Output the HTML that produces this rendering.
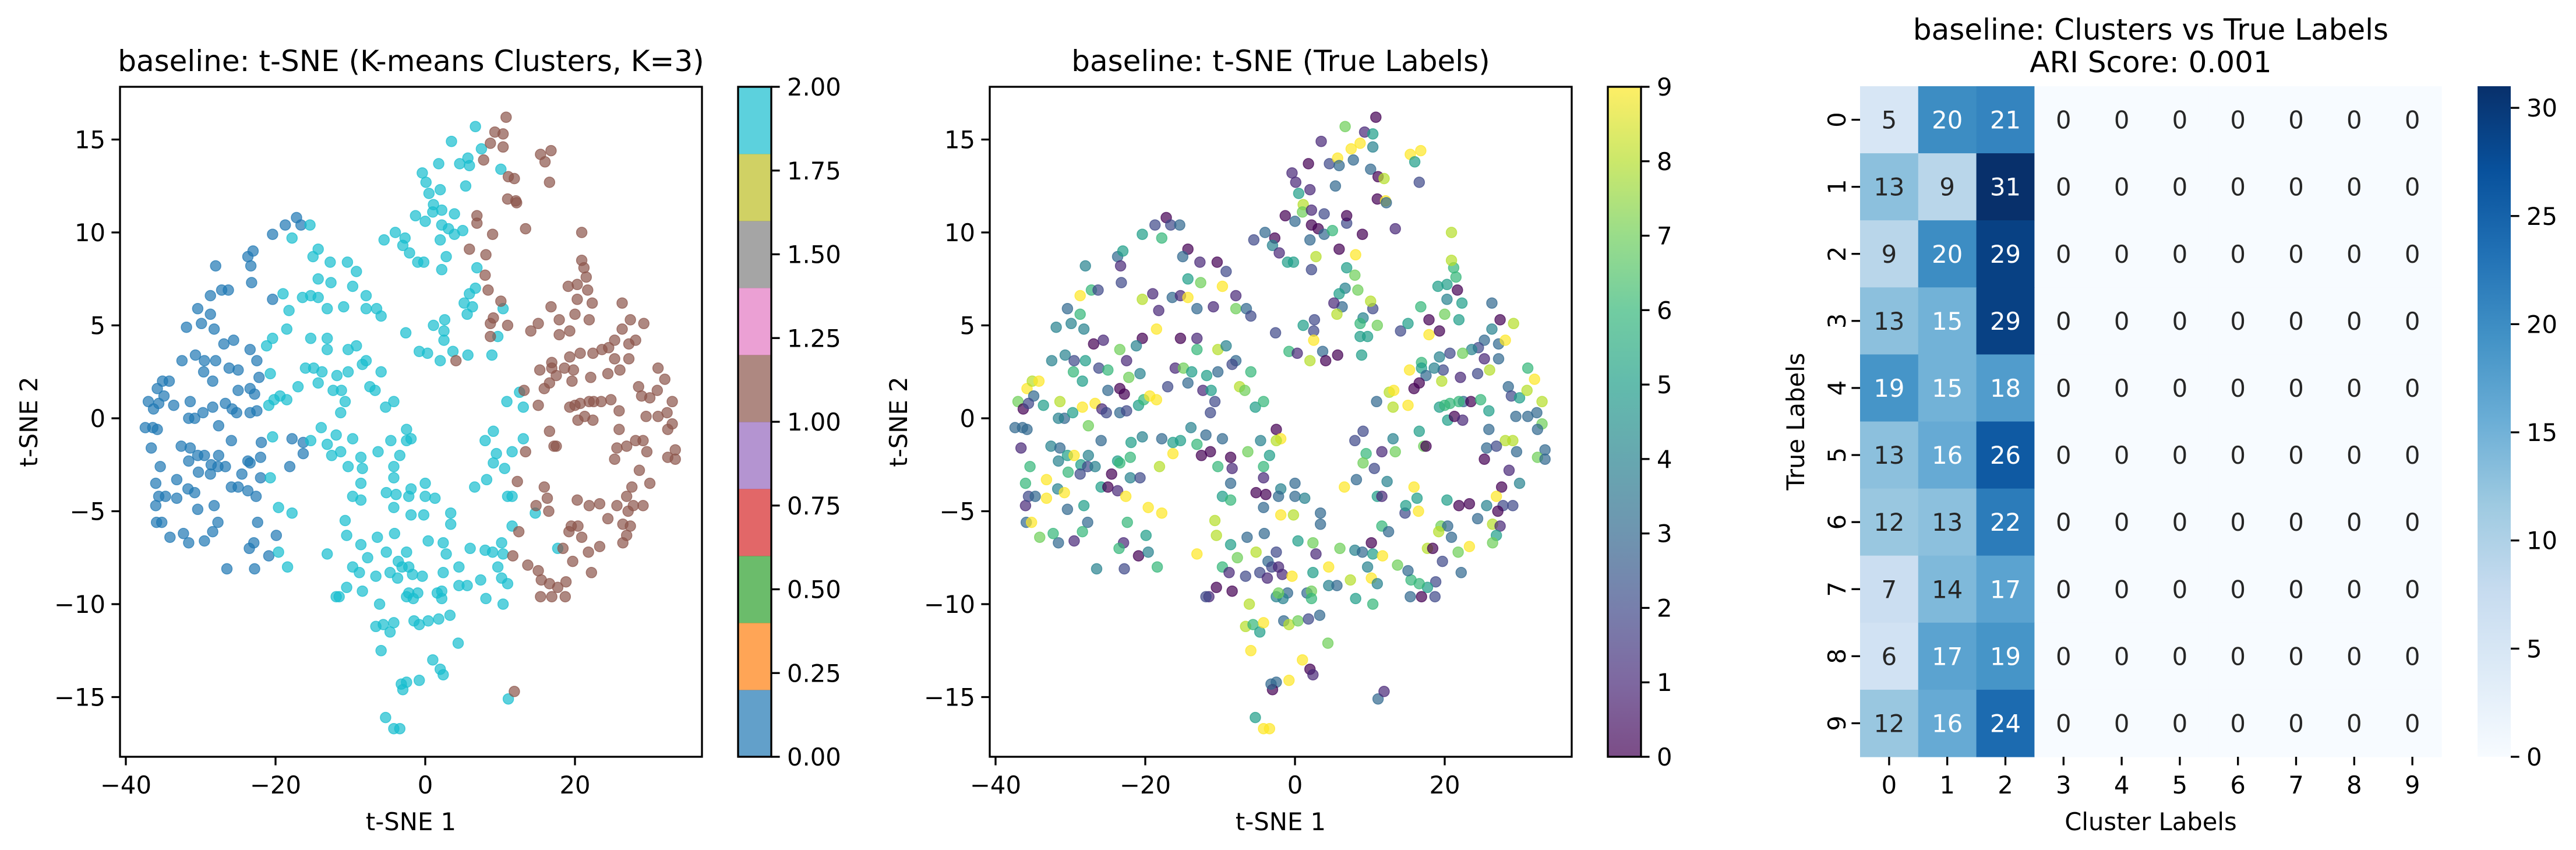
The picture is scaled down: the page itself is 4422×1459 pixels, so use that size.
<!DOCTYPE html>
<html><head><meta charset="utf-8">
<style>
html,body{margin:0;padding:0;background:#fff;}
svg{display:block;font-family:"DejaVu Sans","Liberation Sans",sans-serif;}
</style></head>
<body>
<svg id="fig" width="4422" height="1459" viewBox="0 0 4422 1459" xmlns="http://www.w3.org/2000/svg">
<defs>
<linearGradient id="viridisGrad" x1="0" y1="1" x2="0" y2="0">
<stop offset="0" stop-color="#440154"/><stop offset="0.111" stop-color="#482878"/><stop offset="0.222" stop-color="#3e4989"/><stop offset="0.333" stop-color="#31688e"/><stop offset="0.444" stop-color="#26828e"/><stop offset="0.556" stop-color="#1f9e89"/><stop offset="0.667" stop-color="#35b779"/><stop offset="0.778" stop-color="#6ece58"/><stop offset="0.889" stop-color="#b5de2b"/><stop offset="1" stop-color="#fde725"/>
</linearGradient>
<linearGradient id="bluesGrad" x1="0" y1="1" x2="0" y2="0">
<stop offset="0" stop-color="#f7fbff"/><stop offset="0.125" stop-color="#deebf7"/><stop offset="0.25" stop-color="#c6dbef"/><stop offset="0.375" stop-color="#9ecae1"/><stop offset="0.5" stop-color="#6baed6"/><stop offset="0.625" stop-color="#4292c6"/><stop offset="0.75" stop-color="#2171b5"/><stop offset="0.875" stop-color="#08519c"/><stop offset="1" stop-color="#08306b"/>
</linearGradient>
<clipPath id="clip1"><rect x="206" y="149" width="999" height="1150"/></clipPath>
<clipPath id="clip2"><rect x="1699" y="149" width="999" height="1150"/></clipPath>
</defs>
</svg>
<script>
// t-SNE points: [x, y, kmeansCluster, trueLabel]
const points = [
[-37.4,-0.5,0,3],[-37.0,0.9,0,7],[-36.4,-0.5,0,3],[-35.8,-0.6,0,3],[-36.3,0.5,0,0],[-35.8,1.6,0,9],[-35.1,2.0,0,8],[-34.2,2.0,0,9],[-34.9,1.2,0,3],[-35.6,0.8,0,2],[-36.6,-1.6,0,1],[-35.4,-2.6,0,6],[-36.0,-3.5,0,6],[-36.0,-4.7,0,1],[-35.6,-4.2,0,2],[-34.7,-4.2,0,3],[-35.9,-5.6,0,3],[-35.2,-5.6,0,9],[-34.1,-6.4,0,7],[-33.2,-4.3,0,9],[-33.2,-3.3,0,9],[-33.6,0.7,0,5],[-32.5,3.1,0,4],[-31.9,4.9,0,4],[-30.4,5.9,0,3],[-29.9,5.1,0,4],[-28.7,5.6,0,6],[-28.2,4.8,0,4],[-28.7,6.6,0,9],[-28.0,8.2,0,4],[-27.2,6.9,0,6],[-26.3,6.9,0,2],[-26.9,4.0,0,0],[-25.6,4.2,0,1],[-30.7,3.4,0,4],[-29.5,3.1,0,2],[-28.0,3.1,0,5],[-29.6,2.5,0,6],[-28.4,2.0,0,5],[-31.4,0.9,0,8],[-30.8,0.0,0,3],[-31.6,0.0,0,4],[-29.7,0.3,0,5],[-28.4,0.6,0,9],[-27.6,-0.4,0,7],[-26.7,0.8,0,9],[-25.8,0.5,0,1],[-25.2,0.3,0,2],[-25.0,1.5,0,3],[-26.2,2.7,0,2],[-25.0,2.6,0,6],
[-32.6,-1.5,0,4],[-31.4,-1.6,0,3],[-31.6,-2.3,0,4],[-30.4,-2.0,0,5],[-29.5,-2.0,0,9],[-30.3,-2.9,0,6],[-28.6,-2.5,0,5],[-27.6,-2.0,0,4],[-28.7,-3.0,0,2],[-27.7,-2.6,0,2],[-26.7,-2.6,0,4],[-25.9,-1.2,0,3],[-31.7,-3.8,0,4],[-30.8,-4.0,0,9],[-30.4,-4.9,0,3],[-28.2,-4.7,0,5],[-27.7,-5.6,0,3],[-28.4,-6.1,0,6],[-29.5,-6.6,0,1],[-31.6,-6.7,0,3],[-32.3,-6.2,0,6],[-25.9,-3.7,0,5],[-25.0,-3.7,0,0],[-24.5,-3.0,0,0],[-23.7,-2.3,0,5],[-23.4,-2.4,0,6],[-23.7,-3.9,0,1],[-22.6,-4.2,0,9],[-22.4,-5.6,0,6],[-22.9,-6.7,0,1],[-23.5,-7.0,0,6],[-22.8,-8.1,0,2],[-26.5,-8.1,0,4],[-22.0,-3.2,0,4],[-22.0,-2.1,0,6],[-21.9,-1.3,0,5],[-23.4,1.6,0,0],[-22.8,1.3,0,0],[-22.2,2.2,0,7],[-22.5,3.1,0,1],[-23.4,3.7,0,7],[-23.4,0.3,0,3],[-22.5,0.4,0,2],[-23.7,8.7,0,3],[-23.0,9.0,0,5],[-23.3,8.2,0,1],[-23.2,7.3,0,2],[-20.4,6.4,0,8],[-20.4,9.9,0,5],[-18.7,10.4,0,2],[-17.2,10.8,0,0],[-16.6,10.4,0,2],[-20.9,-7.4,0,0],[-19.9,-6.3,0,5],[-18.1,-2.6,0,8],[-17.8,-1.1,0,3],[-16.3,-1.3,0,5],[-16.3,-1.9,0,9],
[-17.8,9.7,2,6],[-15.4,10.4,2,3],[-14.3,9.1,2,0],[-15.0,8.7,2,3],[-12.7,8.4,2,1],[-10.4,8.4,2,0],[-9.2,7.9,2,2],[-9.7,7.1,2,9],[-14.3,7.5,2,5],[-12.6,7.3,2,7],[-19.0,6.7,2,1],[-16.4,6.5,2,3],[-15.3,6.6,2,1],[-14.3,6.5,2,9],[-18.2,5.8,2,1],[-13.1,5.9,2,3],[-10.9,6.0,2,1],[-7.9,6.6,2,1],[-7.9,5.9,2,7],[-6.5,5.9,2,3],[-5.9,5.5,2,2],[-18.5,4.8,2,9],[-15.3,4.3,2,0],[-13.1,4.3,2,1],[-13.1,3.7,2,6],[-10.3,3.7,2,8],[-9.2,3.9,2,4],[-20.4,4.3,2,0],[-21.2,3.9,2,4],[-20.7,2.4,2,4],[-16.0,2.7,2,1],[-14.9,2.7,2,7],[-13.8,2.5,2,5],[-11.8,2.3,2,5],[-10.3,2.5,2,3],[-7.9,3.1,2,3],[-8.4,2.9,2,2],[-5.9,2.5,2,6],[-14.3,1.9,2,3],[-17.0,1.7,2,2],[-12.3,1.5,2,1],[-11.2,1.5,2,5],[-7.4,1.7,2,8],[-6.7,1.5,2,7],[-10.7,0.9,2,2],[-11.3,0.3,2,2],[-20.9,0.7,2,5],[-20.2,1.0,2,6],[-19.4,1.2,2,9],[-18.5,1.0,2,9],[-13.9,-0.5,2,4],[-15.3,-1.2,2,5],[-20.4,-1.0,2,4],[-20.7,-3.2,2,2],[-19.6,-4.8,2,9],[-17.8,-5.1,2,9],[-19.6,-7.2,2,4],[-18.4,-8.0,2,6],[-13.1,-1.4,2,6],[-11.9,-0.9,2,3],[-12.5,-2.0,2,0],[-11.3,-1.8,2,0],[-9.7,-1.1,2,3],[-8.6,-2.1,2,0],[-8.4,-2.7,2,1],[-10.3,-2.6,2,6],[-8.6,-3.5,2,3],[-9.7,-4.2,2,5],[-8.6,-4.4,2,6],[-10.7,-5.5,2,8],[-10.5,-6.3,2,8],[-8.6,-6.8,2,5],[-13.1,-7.3,2,9],[-7.7,-7.5,2,7],[-9.7,-8.0,2,6],[-8.8,-8.3,2,1],[-10.5,-9.1,2,0],[-8.4,-9.3,2,0],[-11.5,-9.6,2,1],[-11.9,-9.6,2,2],[-6.6,-8.5,2,2],[-6.1,-10.0,2,8],[-6.6,-11.2,2,8],[-5.6,-11.1,2,6],[-4.7,-11.5,2,5],[-4.2,-11.0,2,9],[-5.9,-12.5,2,9],[-6.4,-6.4,2,3],[-6.3,-1.8,2,7],[-5.3,0.6,2,5],[-4.2,0.9,2,6],[-4.6,-1.2,2,4],[-3.4,-2.0,2,5],[-4.2,-2.6,2,6],[-4.2,-3.2,2,1],[-5.2,-4.0,2,0],[-3.9,-4.1,2,0],[-4.2,-4.8,2,3],[-4.1,-6.2,2,3],[-5.2,-7.2,2,8],[-4.7,-8.3,2,2],[-3.6,-7.7,2,3],[-3.7,-8.6,2,1],[-3.1,-8.0,2,2],[-2.5,-7.2,2,2],[-2.2,-8.0,2,1],[-2.5,-9.6,2,4],[-1.7,-8.4,2,1],[-2.5,-0.6,2,0],[-1.9,-1.1,2,9],[-2.5,-1.2,2,8],[-1.9,-3.8,2,4],[-2.2,-4.2,2,3],[-1.9,-5.2,2,9],[0,-3.5,2,3],[0,-4.2,2,3],[1.3,-4.3,2,4],[-0.2,-5.2,2,8],[0.4,-6.6,2,5],[-0.4,-8.5,2,9],[-1.0,-9.4,2,3],[-1.6,-9.7,2,4],[-1.5,-10.9,2,3],[-0.8,-11.1,2,8],[0.4,-10.9,2,7],[1.8,-10.8,2,2],[1.6,-9.4,2,3],[2.2,-9.3,2,7],[2.2,-9.7,2,6],[2.4,-6.7,2,7],[2.8,-7.3,2,1],[2.4,-8.3,2,5],[3.4,-5.1,2,3],[3.4,-5.7,2,3],[3.3,-10.6,2,3],[4.5,-8.0,2,9],[4.5,-9.0,2,4],[5.6,-9.0,2,3],[6.0,-7.0,2,7],[4.4,-12.1,2,7],[7.4,-8.7,2,8],[8.0,-7.1,2,4],[9.0,-7.2,2,3],[8.1,-9.7,2,5],[9.7,-8.0,2,4],[10.2,-6.7,2,0],[10.2,-8.6,2,9],[10.4,-10.0,2,6],[11.0,-8.9,2,4],[10.4,-7.3,2,5],[6.6,-3.7,2,9],[8.2,-3.3,2,3],[8.0,-1.2,2,2],[9.1,-0.7,2,2],[9.5,-1.9,2,6],[9.1,-2.4,2,7],[10.6,-2.7,2,2],[11.6,-1.8,2,1],[11.0,-4.2,2,5],[11.6,-4.2,2,1],[11.6,-5.8,2,6],[13.1,-1.1,2,4],[14.7,-5.1,2,2],[17.7,-7.0,2,8],[11.1,-15.1,2,3],[1.0,-13.0,2,9],[2.0,-13.5,2,0],[2.4,-13.8,2,1],[-0.8,-14.1,2,9],[-2.5,-14.2,2,3],[-3.0,-14.6,2,0],[-3.2,-14.3,2,3],[-5.3,-16.1,2,5],[-4.2,-16.7,2,9],[-3.4,-16.7,2,9],[-2.2,-9.4,2,7],
[6.7,15.7,2,7],[3.5,14.9,2,1],[7.5,14.5,2,9],[1.8,13.7,2,0],[4.6,13.7,2,2],[5.7,14.0,2,9],[5.9,13.6,2,3],[5.4,12.5,2,3],[10.1,13.4,2,3],[-0.4,13.2,2,1],[0.1,12.7,2,1],[0.5,12.1,2,5],[1.1,11.5,2,8],[1.0,11.1,2,7],[2.0,12.3,2,1],[2.2,11.2,2,1],[3.9,11.0,2,2],[2.2,10.4,2,0],[3.1,10.2,2,0],[3.9,9.9,2,3],[5.0,10.1,2,6],[-1.3,10.9,2,0],[0,10.6,2,3],[2.0,9.6,2,3],[-4.0,10.0,2,3],[-5.5,9.6,2,2],[-2.7,9.7,2,0],[-3.0,9.3,2,4],[-2.1,8.9,2,1],[-1.0,8.4,2,5],[-0.2,8.4,2,5],[2.8,8.7,2,8],[2.2,8.0,2,2],[6.9,8.1,2,5],[6.7,7.0,2,4],[5.9,6.7,2,5],[6.3,6.0,2,3],[5.2,6.2,2,1],[5.6,5.6,2,8],[2.6,5.3,2,2],[1.1,5.0,2,5],[2.5,4.7,2,2],[2.5,4.2,2,9],[-2.6,4.6,2,2],[-0.8,3.6,2,6],[0.3,3.5,2,1],[3.7,3.6,2,3],[5.7,3.4,2,0],[2.0,3.1,2,8],[8.9,3.4,2,5],[10.4,5.9,2,2],[9.7,4.4,2,5],[12.6,1.4,2,8],[13.1,0.6,2,8],[10.9,0.9,2,3],
[10.8,16.2,1,0],[9.3,15.4,1,1],[10.4,15.3,1,5],[8.7,14.8,1,9],[10.4,14.6,1,4],[7.8,13.9,1,3],[11.1,13.0,1,0],[11.9,12.9,1,8],[11.0,11.8,1,0],[12.1,11.7,1,9],[12.2,11.6,1,3],[15.4,14.2,1,9],[16.8,14.4,1,9],[16.0,13.8,1,5],[16.6,12.7,1,2],[13.4,10.2,1,1],[6.9,10.5,1,2],[6.9,10.9,1,0],[9.0,9.9,1,0],[5.9,9.1,1,0],[8.1,8.8,1,9],[8.0,7.7,1,7],[8.4,6.9,1,7],[10.1,6.3,1,8],[9.1,5.4,1,4],[8.7,5.1,1,6],[11.0,5.0,1,7],[8.7,4.4,1,5],[14.1,4.7,1,2],[15.1,5.1,1,5],[16.8,6.0,1,6],[17.9,5.3,1,0],[17.9,4.5,1,9],[19.3,4.7,1,0],[20.0,5.6,1,7],[20.3,6.4,1,4],[19.1,7.1,1,5],[20.3,7.2,1,5],[21.7,6.9,1,0],[21.5,7.6,1,6],[21.2,8.1,1,6],[20.9,8.5,1,8],[20.9,10.0,1,8],[22.3,6.2,1,5],[21.9,5.3,1,5],[26.3,6.2,1,3],[26.3,4.8,1,4],[27.4,5.3,1,0],[27.2,4.0,1,3],[28.1,4.2,1,9],[29.2,5.1,1,8],[25.3,4.2,1,3],[24.5,3.8,1,2],[23.6,3.7,1,4],[22.4,3.5,1,7],[20.7,3.5,1,2],[19.3,3.3,1,4],[19.8,2.6,1,2],[18.6,2.7,1,4],[16.9,3.0,1,6],[16.9,2.7,1,5],[15.3,2.6,1,9],[17.5,2.3,1,3],[16.6,1.9,1,0],[15.9,1.6,1,0],[19.6,2.0,1,8],[22.1,2.2,1,1],[24.4,2.4,1,2],[25.3,3.2,1,1],[26.0,2.6,1,8],[27.2,3.2,1,3],[28.5,1.7,1,3],[28.9,1.2,1,2],[30.0,1.1,1,5],[31.1,2.7,1,6],[32.0,2.1,1,9],[31.0,1.5,1,8],[33.0,0.9,1,8],[32.3,0.3,1,3],[31.1,0.1,1,3],[29.5,0.1,1,3],[33.0,-0.3,1,7],[32.4,-0.6,1,3],[33.4,-1.7,1,3],[32.4,-2.1,1,7],[33.4,-2.2,1,3],[29.6,-1.8,1,3],[29.1,-1.2,1,8],[28.1,-1.2,1,8],[28.6,-2.8,1,1],[30.0,-3.5,1,4],[27.6,-3.7,1,0],[26.9,-4.2,1,9],[27.8,-4.7,1,2],[29.1,-4.7,1,2],[27.1,-5.0,1,0],[25.6,-4.7,1,4],[24.4,-5.4,1,3],[26.4,-5.7,1,8],[27.4,-5.8,1,1],[26.9,-6.3,1,5],[26.4,-6.7,1,7],[23.3,-6.9,1,9],[21.8,-7.2,1,7],[22.2,-8.3,1,3],[23.3,-4.6,1,0],[21.9,-4.7,1,0],[20.3,-4.4,1,5],[19.5,-5.8,1,7],[20.4,-5.8,1,3],[19.2,-6.1,1,8],[20.9,-6.4,1,3],[19.7,-7.7,1,2],[18.4,-7.0,1,0],[18.8,-8.8,1,2],[17.7,-9.1,1,5],[18.7,-9.6,1,2],[16.9,-9.6,1,0],[15.4,-9.6,1,3],[16.6,-8.9,1,6],[15.5,-8.7,1,6],[15.1,-8.2,1,3],[13.7,-7.9,1,7],[12.5,-6.1,1,3],[11.7,-7.4,1,9],[16.5,-5.0,1,9],[16.3,-4.3,1,5],[15.9,-3.7,1,9],[14.8,-4.7,1,5],[13.4,-1.8,1,7],[16.6,-0.7,1,5],[17.2,-1.5,1,7],[17.5,-1.5,1,0],[20.4,-0.1,1,5],[21.3,0.1,1,0],[22.4,-0.1,1,1],[22.5,0.9,1,3],[23.5,0.9,1,0],[21.9,0.9,1,6],[19.3,0.6,1,5],[20.0,0.7,1,6],[24.8,1.0,1,6],[25.9,0.4,1,5],[25.9,-0.6,1,3],[25.6,-1.6,1,3],[25.3,-2.2,1,0],[26.9,-1.5,1,2],[20.7,0.8,1,6],[15.1,0.7,1,9],[13.2,1.5,1,9],[11.9,-14.7,1,1],[4.1,3.1,1,0],[12.3,-3.4,1,4]
];
const xTicks = [-40,-20,0,20];
const yTicks = [-15,-10,-5,0,5,10,15];
const clusterTicks = ["0.00","0.25","0.50","0.75","1.00","1.25","1.50","1.75","2.00"];
const labelTicks = [0,1,2,3,4,5,6,7,8,9];
const tab10 = ["#1f77b4","#ff7f0e","#2ca02c","#d62728","#9467bd","#8c564b","#e377c2","#7f7f7f","#bcbd22","#17becf"];
const viridis = ["#440154","#482878","#3e4989","#31688e","#26828e","#1f9e89","#35b779","#6ece58","#b5de2b","#fde725"];
const clusterColor = ["#1f77b4","#8c564b","#17becf"];
// confusion matrix rows = true labels 0..9, cols = cluster labels 0..9
const heatRowLabels = [0,1,2,3,4,5,6,7,8,9];
const heatColLabels = [0,1,2,3,4,5,6,7,8,9];
const heatCol0 = [5,13,9,13,19,13,12,7,6,12];
const heatCol1 = [20,9,20,15,15,16,13,14,17,16];
const heatCol2 = [21,31,29,29,18,26,22,17,19,24];
const heatMax = 31;
const heatCbTicks = [0,5,10,15,20,25,30];

const NS = "http://www.w3.org/2000/svg";
const svg = document.getElementById('fig');
function mk(tag, attrs, parent, text){
  const e = document.createElementNS(NS, tag);
  for (const k in attrs) e.setAttribute(k, attrs[k]);
  if (text !== undefined) e.textContent = text;
  (parent || svg).appendChild(e);
  return e;
}
const AX_TOP = 149, AX_BOT = 1299;
function yScale(v){ return 718 - 31.9 * v; }
function fmtNum(v){ return v < 0 ? "\u2212" + Math.abs(v) : String(v); }

function scatterPanel(left, zeroX, clipId, colorFn, title, panelName){
  const xs = v => zeroX + 12.85 * v;
  const g = mk('g', {});
  
  
  const pg = mk('g', {'clip-path': 'url(#' + clipId + ')'}, g);
  
  
  points.forEach(p => {
    const c = mk('circle', {cx: xs(p[0]).toFixed(1), cy: yScale(p[1]).toFixed(1), r: 9, fill: colorFn(p), 'fill-opacity': 0.7, stroke: colorFn(p), 'stroke-opacity': 0.7, 'stroke-width': 1.5}, pg);
    
    
  });
  const frame = mk('rect', {x: left, y: AX_TOP, width: 999, height: AX_BOT - AX_TOP, fill: 'none', stroke: '#000', 'stroke-width': 3.3}, g);
  
  
  xTicks.forEach(t => {
    const x = xs(t);
    mk('line', {x1: x, x2: x, y1: AX_BOT, y2: AX_BOT + 14.6, stroke: '#000', 'stroke-width': 3.3}, g);
    const tl = mk('text', {x: x, y: 1362, 'font-size': 41.7, 'text-anchor': 'middle'}, g, fmtNum(t));
    
    
  });
  yTicks.forEach(t => {
    const y = yScale(t);
    mk('line', {x1: left - 14.6, x2: left, y1: y, y2: y, stroke: '#000', 'stroke-width': 3.3}, g);
    const tl = mk('text', {x: left - 25, y: y + 15, 'font-size': 41.7, 'text-anchor': 'end'}, g, fmtNum(t));
    
    
  });
  const tt = mk('text', {x: left + 499.5, y: 122, 'font-size': 50, 'text-anchor': 'middle'}, g, title);
  
  
  const xl = mk('text', {x: left + 499.5, y: 1425, 'font-size': 41.7, 'text-anchor': 'middle'}, g, 't-SNE 1');
  
  
  const yl = mk('text', {x: 0, y: 0, 'font-size': 41.7, 'text-anchor': 'middle', transform: 'translate(' + (left - 142) + ',' + 724 + ') rotate(-90)'}, g, 't-SNE 2');
  
  
  return g;
}

scatterPanel(206, 730, 'clip1', p => clusterColor[p[2]], 'baseline: t-SNE (K-means Clusters, K=3)', 'kmeans-scatter');
scatterPanel(1699, 2223, 'clip2', p => viridis[p[3]], 'baseline: t-SNE (True Labels)', 'true-label-scatter');

// colorbar 1 (tab10, 0..2)
(function(){
  const g = mk('g', {});
  
  
  const L = 1267, W = 57, H = AX_BOT - AX_TOP;
  tab10.forEach((c, i) => {
    const h = H / 10;
    mk('rect', {x: L, y: AX_BOT - (i + 1) * h, width: W, height: h + 0.5, fill: c, 'fill-opacity': 0.7}, g);
  });
  mk('rect', {x: L, y: AX_TOP, width: W, height: H, fill: 'none', stroke: '#000', 'stroke-width': 3.3}, g);
  clusterTicks.forEach((t, i) => {
    const y = AX_BOT - i * H / 8;
    mk('line', {x1: L + W, x2: L + W + 14.6, y1: y, y2: y, stroke: '#000', 'stroke-width': 3.3}, g);
    const tl = mk('text', {x: L + W + 27, y: y + 15, 'font-size': 41.7}, g, t);
    
    
  });
})();
// colorbar 2 (viridis, 0..9)
(function(){
  const g = mk('g', {});
  
  
  const L = 2760, W = 57, H = AX_BOT - AX_TOP;
  mk('rect', {x: L, y: AX_TOP, width: W, height: H, fill: 'url(#viridisGrad)', 'fill-opacity': 0.7}, g);
  mk('rect', {x: L, y: AX_TOP, width: W, height: H, fill: 'none', stroke: '#000', 'stroke-width': 3.3}, g);
  labelTicks.forEach(t => {
    const y = AX_BOT - t * H / 9;
    mk('line', {x1: L + W, x2: L + W + 14.6, y1: y, y2: y, stroke: '#000', 'stroke-width': 3.3}, g);
    const tl = mk('text', {x: L + W + 27, y: y + 15, 'font-size': 41.7}, g, String(t));
    
    
  });
})();

// heatmap
(function(){
  const blues = ["#f7fbff","#deebf7","#c6dbef","#9ecae1","#6baed6","#4292c6","#2171b5","#08519c","#08306b"];
  function hex(h){ return [parseInt(h.slice(1,3),16), parseInt(h.slice(3,5),16), parseInt(h.slice(5,7),16)]; }
  function bluesAt(v){
    const t = Math.max(0, Math.min(1, v / heatMax)) * 8;
    const i = Math.min(7, Math.floor(t)), f = t - i;
    const a = hex(blues[i]), b = hex(blues[i + 1]);
    return 'rgb(' + a.map((c, k) => Math.round(c + (b[k] - c) * f)).join(',') + ')';
  }
  const g = mk('g', {});
  
  
  const L = 3193, T = 148, CW = 99.8, CH = 115.1;
  const cols = [heatCol0, heatCol1, heatCol2];
  heatRowLabels.forEach((r, ri) => {
    heatColLabels.forEach((c, ci) => {
      const v = ci < cols.length ? cols[ci][ri] : 0;
      const cell = mk('rect', {x: L + ci * CW, y: T + ri * CH, width: CW + 0.6, height: CH + 0.6, fill: bluesAt(v)}, g);
      
      
      const txt = mk('text', {x: L + (ci + 0.5) * CW, y: T + (ri + 0.5) * CH + 15, 'font-size': 41.7, 'text-anchor': 'middle', fill: v >= 15 ? '#ffffff' : '#262626'}, g, String(v));
      
      
    });
  });
  heatColLabels.forEach((c, ci) => {
    const x = L + (ci + 0.5) * CW;
    mk('line', {x1: x, x2: x, y1: T + 10 * CH, y2: T + 10 * CH + 14.6, stroke: '#000', 'stroke-width': 3.3}, g);
    const tl = mk('text', {x: x, y: 1362, 'font-size': 41.7, 'text-anchor': 'middle'}, g, String(c));
    
    
  });
  heatRowLabels.forEach((r, ri) => {
    const y = T + (ri + 0.5) * CH;
    mk('line', {x1: L - 14.6, x2: L, y1: y, y2: y, stroke: '#000', 'stroke-width': 3.3}, g);
    const tl = mk('text', {x: 0, y: 0, 'font-size': 41.7, 'text-anchor': 'middle', transform: 'translate(' + (L - 25) + ',' + y + ') rotate(-90)'}, g, String(r));
    tl.setAttribute('dy', '0');
    
    
  });
  const t1 = mk('text', {x: L + 5 * CW, y: 68, 'font-size': 50, 'text-anchor': 'middle'}, g, 'baseline: Clusters vs True Labels');
  
  
  const t2 = mk('text', {x: L + 5 * CW, y: 124, 'font-size': 50, 'text-anchor': 'middle'}, g, 'ARI Score: 0.001');
  
  
  const xl = mk('text', {x: L + 5 * CW, y: 1425, 'font-size': 41.7, 'text-anchor': 'middle'}, g, 'Cluster Labels');
  
  
  const yl = mk('text', {x: 0, y: 0, 'font-size': 41.7, 'text-anchor': 'middle', transform: 'translate(3097,' + (T + 5 * CH) + ') rotate(-90)'}, g, 'True Labels');
  
  
  // colorbar
  const CL = 4253, CWd = 57, H = 10 * CH;
  const cb = mk('rect', {x: CL, y: T, width: CWd, height: H, fill: 'url(#bluesGrad)'}, g);
  
  
  heatCbTicks.forEach(t => {
    const y = T + H - t / heatMax * H;
    mk('line', {x1: CL + CWd, x2: CL + CWd + 14.6, y1: y, y2: y, stroke: '#000', 'stroke-width': 3.3}, g);
    const tl = mk('text', {x: CL + CWd + 27, y: y + 15, 'font-size': 41.7}, g, String(t));
    
    
  });
})();
</script>
</body></html>
